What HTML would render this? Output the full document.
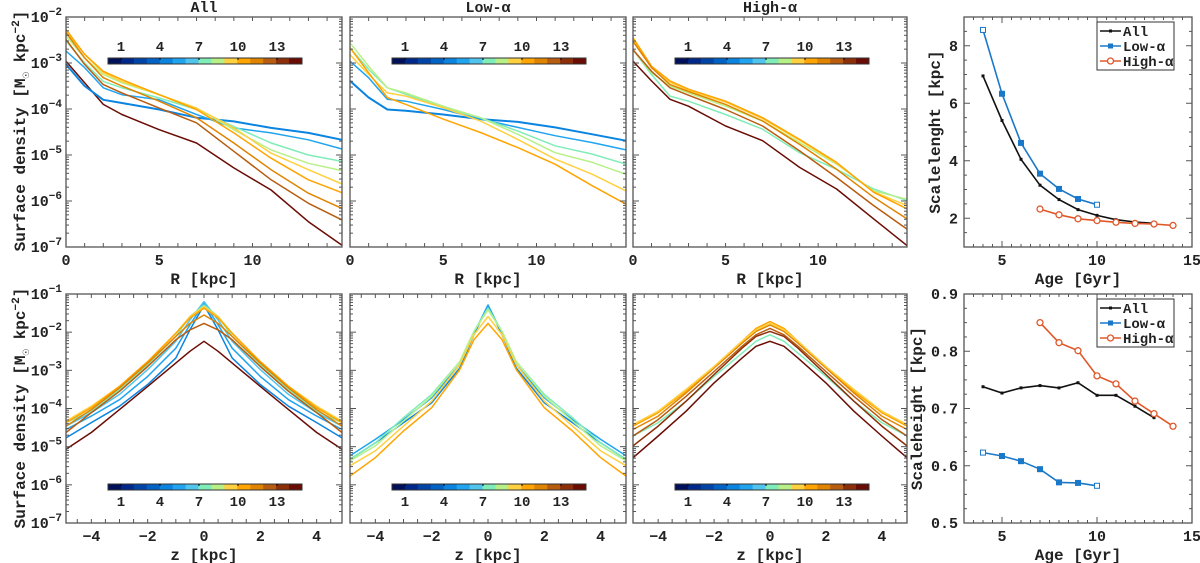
<!DOCTYPE html>
<html><head><meta charset="utf-8">
<style>
html,body{margin:0;padding:0;background:#fff;}
svg{display:block;font-family:"Liberation Mono",monospace;font-weight:bold;}
</style></head>
<body>
<svg id="fig" width="1200" height="563" viewBox="0 0 1200 563" xmlns="http://www.w3.org/2000/svg"></svg>
<script>
// ---------- data ----------
const ageColors = ['#00105a','#00288a','#0044a8','#0062c4','#0a84e0','#20a4f0','#50c4ec','#80ecb8','#b8f088','#ffd040','#ffa400','#e08400','#b85c10','#8c2e08','#6a0c04'];
const cbarTicks = [1,4,7,10,13];
const rGrid = [0,1,2,3,5,7,9,11,13,14.8];
const zGrid = [0,0.5,1,2,3,4,4.9];

const allTopAges = [14,4,5,7,8,9,10,11,12];
const allTop = [
 [-2.96,-3.43,-3.90,-4.12,-4.45,-4.74,-5.28,-5.76,-6.45,-6.96],
 [-3.03,-3.50,-3.80,-3.87,-4.01,-4.19,-4.27,-4.41,-4.52,-4.67],
 [-2.74,-3.10,-3.54,-3.69,-3.80,-4.12,-4.41,-4.52,-4.67,-4.87],
 [-2.52,-3.00,-3.40,-3.54,-3.76,-4.01,-4.38,-4.74,-5.00,-5.14],
 [-2.41,-2.89,-3.25,-3.43,-3.69,-3.98,-4.45,-4.89,-5.18,-5.34],
 [-2.31,-2.81,-3.21,-3.40,-3.69,-3.98,-4.41,-4.96,-5.32,-5.63],
 [-2.27,-2.81,-3.18,-3.36,-3.69,-4.01,-4.52,-5.07,-5.54,-5.82],
 [-2.34,-2.89,-3.32,-3.50,-3.83,-4.19,-4.74,-5.32,-5.83,-6.16],
 [-2.49,-3.03,-3.47,-3.65,-3.98,-4.30,-4.92,-5.54,-6.05,-6.41]];
const lowTopAges = [4,5,7,8,9,10];
const lowTop = [
 [-3.39,-3.75,-4.01,-4.04,-4.12,-4.22,-4.28,-4.40,-4.55,-4.69],
 [-2.96,-3.32,-3.79,-3.83,-4.01,-4.22,-4.40,-4.58,-4.73,-4.89],
 [-2.67,-3.14,-3.54,-3.68,-3.97,-4.19,-4.48,-4.80,-4.98,-5.20],
 [-2.56,-3.07,-3.54,-3.65,-3.94,-4.19,-4.55,-4.95,-5.16,-5.42],
 [-2.82,-3.25,-3.65,-3.72,-3.97,-4.26,-4.66,-5.09,-5.42,-5.78],
 [-2.67,-3.21,-3.75,-3.90,-4.22,-4.51,-4.84,-5.20,-5.67,-6.07]];
const highTopAges = [7,8,9,10,11,12,14];
const highTop = [
 [-2.71,-3.25,-3.72,-3.83,-4.12,-4.44,-4.95,-5.31,-5.74,-5.99],
 [-2.71,-3.21,-3.50,-3.65,-3.94,-4.26,-4.73,-5.20,-5.78,-5.96],
 [-2.49,-3.10,-3.42,-3.59,-3.85,-4.21,-4.68,-5.18,-5.80,-6.10],
 [-2.45,-3.07,-3.39,-3.57,-3.83,-4.19,-4.66,-5.16,-5.81,-6.17],
 [-2.53,-3.10,-3.47,-3.62,-3.90,-4.26,-4.77,-5.31,-5.92,-6.39],
 [-2.71,-3.18,-3.54,-3.70,-4.01,-4.37,-4.91,-5.49,-6.10,-6.61],
 [-2.96,-3.39,-3.79,-3.94,-4.37,-4.69,-5.27,-5.74,-6.39,-6.97]];

const allBotAges = [14,4,5,6,7,9,10,11,12];
const allBot = [
 [-2.24,-2.50,-2.81,-3.42,-4.03,-4.63,-5.07],
 [-1.29,-1.94,-2.68,-3.37,-3.94,-4.37,-4.77],
 [-1.24,-1.81,-2.42,-3.16,-3.77,-4.20,-4.55],
 [-1.20,-1.68,-2.24,-2.98,-3.63,-4.11,-4.46],
 [-1.29,-1.59,-2.11,-2.85,-3.50,-4.07,-4.37],
 [-1.33,-1.59,-2.03,-2.77,-3.42,-3.94,-4.33],
 [-1.37,-1.63,-2.03,-2.77,-3.42,-3.98,-4.37],
 [-1.55,-1.77,-2.11,-2.81,-3.46,-4.03,-4.46],
 [-1.77,-1.94,-2.20,-2.90,-3.55,-4.11,-4.63]];
const lowBotAges = [4,5,7,8,9,10];
const lowBot = [
 [-1.29,-2.07,-2.94,-3.85,-4.37,-4.90,-5.33],
 [-1.29,-2.03,-2.85,-3.72,-4.29,-4.81,-5.24],
 [-1.37,-1.98,-2.77,-3.63,-4.24,-4.90,-5.33],
 [-1.42,-1.98,-2.77,-3.68,-4.33,-4.98,-5.37],
 [-1.59,-2.07,-2.85,-3.81,-4.46,-5.11,-5.50],
 [-1.77,-2.20,-2.98,-3.98,-4.59,-5.29,-5.77]];
const highBotAges = [14,7,13,12,11,10,9];
const highBot = [
 [-2.24,-2.37,-2.68,-3.33,-4.07,-4.72,-5.29],
 [-2.07,-2.24,-2.55,-3.16,-3.81,-4.37,-4.72],
 [-1.98,-2.11,-2.42,-3.11,-3.81,-4.46,-4.98],
 [-1.90,-2.07,-2.37,-3.03,-3.68,-4.29,-4.72],
 [-1.81,-1.98,-2.29,-2.94,-3.59,-4.20,-4.55],
 [-1.72,-1.90,-2.24,-2.90,-3.55,-4.11,-4.46],
 [-1.77,-1.94,-2.24,-2.90,-3.50,-4.07,-4.42]];

const lenAllAges = [4,5,6,7,8,9,10,11,12,13];
const lenAll = [6.95,5.4,4.05,3.15,2.65,2.3,2.1,1.95,1.87,1.82];
const lenLowAges = [4,5,6,7,8,9,10];
const lenLow = [8.55,6.33,4.62,3.55,3.02,2.67,2.47];
const lenHighAges = [7,8,9,10,11,12,13,14];
const lenHigh = [2.32,2.12,1.98,1.92,1.86,1.82,1.8,1.75];
const hAll = [0.738,0.727,0.736,0.74,0.736,0.745,0.723,0.723,0.704,0.684];
const hLow = [0.623,0.617,0.608,0.594,0.571,0.570,0.565];
const hHigh = [0.85,0.815,0.801,0.757,0.743,0.713,0.691,0.669];

// ---------- helpers ----------
const NS='http://www.w3.org/2000/svg';
const svg=document.getElementById('fig');
function mk(tag,attrs,parent){const e=document.createElementNS(NS,tag);for(const k in attrs)e.setAttribute(k,attrs[k]);(parent||svg).appendChild(e);return e;}
function txt(s,x,y,size,anchor,parent){const t=mk('text',{x:x,y:y,'font-size':size,'text-anchor':anchor||'middle',fill:'#222'},parent);t.textContent=s;return t;}
function lin(d0,d1,p0,p1){return v=>p0+(v-d0)/(d1-d0)*(p1-p0);}
function powLabel(exp,x,y,parent){
  const t=mk('text',{x:x,y:y,'font-size':15,'text-anchor':'end',fill:'#222'},parent);
  const a=mk('tspan',{},t);a.textContent='10';
  const b=mk('tspan',{dy:-7,'font-size':11},t);b.textContent='\u2212'+exp;
  
  
}

function logPanel(o){
  const g=mk('g',{});
  
  
  const X=lin(o.xmin,o.xmax,o.x0,o.x1), Y=lin(o.ytop,o.ybot,o.y0,o.y1);
  // curves
  o.series.forEach((vals,i)=>{
    let pts=[];
    if(o.mirror){
      for(let k=o.grid.length-1;k>=1;k--)pts.push([X(-o.grid[k]),Y(vals[k])]);
      for(let k=0;k<o.grid.length;k++)pts.push([X(o.grid[k]),Y(vals[k])]);
    } else {
      for(let k=0;k<o.grid.length;k++)pts.push([X(o.grid[k]),Y(vals[k])]);
    }
    const p=mk('polyline',{points:pts.map(q=>q[0].toFixed(1)+','+q[1].toFixed(1)).join(' '),fill:'none',stroke:ageColors[o.ages[i]],'stroke-width':(o.ages[i]===4&&!o.mirror)?2:1.5,'stroke-linejoin':'round'},g);
    
    
  });
  // frame
  const fr=mk('rect',{x:o.x0,y:o.y0,width:o.x1-o.x0,height:o.y1-o.y0,fill:'none',stroke:'#555','stroke-width':1.3},g);
  
  
  // y ticks (log)
  for(let d=o.ytop;d>o.ybot;d--){
    for(let m=1;m<10;m++){
      const v=d-1+Math.log10(m); if(v<o.ybot||v>o.ytop)continue;
      const y=Y(v), L=(m===1)?6:3;
      mk('line',{x1:o.x0,x2:o.x0+L,y1:y,y2:y,stroke:'#555','stroke-width':1},g);
      mk('line',{x1:o.x1,x2:o.x1-L,y1:y,y2:y,stroke:'#555','stroke-width':1},g);
    }
  }
  mk('line',{x1:o.x0,x2:o.x0+6,y1:Y(o.ytop),y2:Y(o.ytop),stroke:'#555'},g);
  if(o.ylabels){for(let d=o.ytop;d>=o.ybot;d--)powLabel(-d,o.x0-4,Y(d)+5,g);}
  // x ticks
  for(let v=o.xtickStart;v<=o.xmax+1e-6;v+=o.minorStep){
    const x=X(v);
    mk('line',{x1:x,x2:x,y1:o.y1,y2:o.y1-4,stroke:'#555'},g);
    mk('line',{x1:x,x2:x,y1:o.y0,y2:o.y0+4,stroke:'#555'},g);
  }
  o.xlabels.forEach(v=>{const t=txt(v<0?'\u2212'+(-v):String(v),X(v),o.y1+18,15,'middle',g);
    });
  const xt=txt(o.xtitle,(o.x0+o.x1)/2,o.y1+37,16,'middle',g);
  
  // colorbar
  const cg=mk('g',{},g);
  
  
  const cx0=o.x0+42, cw=194, cy=o.cby, seg=cw/ageColors.length;
  ageColors.forEach((c,i)=>mk('rect',{x:cx0+i*seg,y:cy,width:seg+0.4,height:6,fill:c},cg));
  mk('rect',{x:cx0,y:cy,width:cw,height:6,fill:'none',stroke:'#333','stroke-width':1},cg);
  cbarTicks.forEach(a=>{const x=cx0+a*13;
    mk('line',{x1:x,x2:x,y1:cy,y2:cy+2,stroke:'#000'},cg);
    txt(String(a),x,o.cbLabelBelow?cy+22:cy-7,14,'middle',cg);});
  if(o.title){const t=txt(o.title,(o.x0+o.x1)/2,12,15,'middle',g);
    }
}

const cols=[[66,342],[350,626],[633,907]];
const titles=['All','Low-\u03b1','High-\u03b1'];
const topSets=[[allTop,allTopAges],[lowTop,lowTopAges],[highTop,highTopAges]];
const botSets=[[allBot,allBotAges],[lowBot,lowBotAges],[highBot,highBotAges]];
const names=['all','low-alpha','high-alpha'];
for(let c=0;c<3;c++){
  logPanel({name:'radial-profile-'+names[c],x0:cols[c][0],x1:cols[c][1],y0:17,y1:247,xmin:0,xmax:14.8,ytop:-2,ybot:-7,
    grid:rGrid,series:topSets[c][0],ages:topSets[c][1],mirror:false,ylabels:c===0,xtickStart:0,minorStep:1,xlabels:[0,5,10],
    xtitle:'R [kpc]',cby:58,cbLabelBelow:false,title:titles[c]});
  logPanel({name:'vertical-profile-'+names[c],x0:cols[c][0],x1:cols[c][1],y0:294,y1:523,xmin:-4.9,xmax:4.9,ytop:-1,ybot:-7,
    grid:zGrid,series:botSets[c][0],ages:botSets[c][1],mirror:true,ylabels:c===0,xtickStart:-4.5,minorStep:0.5,xlabels:[-4,-2,0,2,4],
    xtitle:'z [kpc]',cby:484,cbLabelBelow:true,title:null});
}
// left y titles
[[131,'top'],[408,'bottom']].forEach(([cy,w])=>{
  const t=mk('text',{x:0,y:0,'font-size':16,'text-anchor':'middle',fill:'#222',transform:'translate(25,'+cy+') rotate(-90)'});
  
  
  const a=mk('tspan',{},t);a.textContent='Surface density [M';
  const s=mk('tspan',{dy:4,'font-size':11},t);s.textContent='\u2609';
  const b=mk('tspan',{dy:-4},t);b.textContent=' kpc';
  const e=mk('tspan',{dy:-6,'font-size':11},t);e.textContent='\u22122';
  const f=mk('tspan',{dy:6},t);f.textContent=']';
});

// ---------- right panels ----------
const seriesCols={all:'#111',low:'#1a78c8',high:'#e0582a'};
function linePanel(o){
  const g=mk('g',{});
  
  
  const X=lin(3,15,964,1192), Y=lin(o.ymin,o.ymax,o.y1,o.y0);
  const fr=mk('rect',{x:964,y:o.y0,width:228,height:o.y1-o.y0,fill:'none',stroke:'#555','stroke-width':1.3},g);
  
  
  for(let v=3;v<=15;v+=0.5){const x=X(v),L=(v%5===0)?6:3;
    mk('line',{x1:x,x2:x,y1:o.y1,y2:o.y1-L,stroke:'#555'},g);mk('line',{x1:x,x2:x,y1:o.y0,y2:o.y0+L,stroke:'#555'},g);}
  [5,10,15].forEach(v=>{const t=txt(String(v),X(v),o.y1+18,15,'middle',g);});
  for(let v=o.ymin;v<=o.ymax+1e-9;v+=o.minor){const y=Y(v);
    const major=Math.abs(v/o.major-Math.round(v/o.major))<1e-6;const L=major?6:3;
    mk('line',{x1:964,x2:964+L,y1:y,y2:y,stroke:'#555'},g);mk('line',{x1:1192,x2:1192-L,y1:y,y2:y,stroke:'#555'},g);}
  o.yticks.forEach(v=>{const t=txt(o.fmt(v),958,Y(v)+5,15,'end',g);});
  const xt=txt('Age [Gyr]',1078,o.y1+37,16,'middle',g);
  const yt=mk('text',{x:0,y:0,'font-size':16,'text-anchor':'middle',fill:'#222',transform:'translate('+o.ytx+','+(o.y0+o.y1)/2+') rotate(-90)'},g);
  yt.textContent=o.ytitle;
  o.series.forEach(s=>{
    const sg=mk('g',{},g);
    
    
    mk('polyline',{points:s.ages.map((a,i)=>X(a).toFixed(1)+','+Y(s.vals[i]).toFixed(1)).join(' '),fill:'none',stroke:seriesCols[s.key],'stroke-width':1.6},sg);
    s.ages.forEach((a,i)=>{const x=X(a),y=Y(s.vals[i]);
      if(s.key==='all')mk('rect',{x:x-1.5,y:y-1.5,width:3,height:3,fill:'#111'},sg);
      else if(s.key==='low')mk('rect',{x:x-2.5,y:y-2.5,width:5,height:5,fill:i===s.ages.length-1||i===0?'#fff':seriesCols.low,stroke:seriesCols.low,'stroke-width':1},sg);
      else mk('circle',{cx:x,cy:y,r:3,fill:'#fff',stroke:seriesCols.high,'stroke-width':1.3},sg);});
  });
  // legend
  const lg=mk('g',{},g);
  
  
  mk('rect',{x:1097,y:o.ly,width:77,height:48,fill:'#fff',stroke:'#333','stroke-width':1},lg);
  [['all','All'],['low','Low-\u03b1'],['high','High-\u03b1']].forEach(([k,l],i)=>{
    const y=o.ly+9+i*15;
    const e=mk('g',{},lg);
    
    
    mk('line',{x1:1100,x2:1121,y1:y,y2:y,stroke:seriesCols[k],'stroke-width':1.6},e);
    if(k==='all')mk('rect',{x:1109,y:y-1.5,width:3,height:3,fill:'#111'},e);
    else if(k==='low')mk('rect',{x:1108,y:y-2.5,width:5,height:5,fill:seriesCols.low},e);
    else mk('circle',{cx:1110.5,cy:y,r:3,fill:'#fff',stroke:seriesCols.high,'stroke-width':1.3},e);
    txt(l,1123,y+5,14,'start',e);
  });
}
linePanel({name:'scalelength-panel',y0:17,y1:247,ymin:1,ymax:9,minor:0.5,major:2,yticks:[2,4,6,8],fmt:v=>String(v),ytx:940,ytitle:'Scalelenght [kpc]',ly:22,
  series:[{key:'all',ages:lenAllAges,vals:lenAll},{key:'low',ages:lenLowAges,vals:lenLow},{key:'high',ages:lenHighAges,vals:lenHigh}]});
linePanel({name:'scaleheight-panel',y0:294,y1:523,ymin:0.5,ymax:0.9,minor:0.025,major:0.1,yticks:[0.5,0.6,0.7,0.8,0.9],fmt:v=>v.toFixed(1),ytx:922,ytitle:'Scaleheight [kpc]',ly:299,
  series:[{key:'all',ages:lenAllAges,vals:hAll},{key:'low',ages:lenLowAges,vals:hLow},{key:'high',ages:lenHighAges,vals:hHigh}]});
</script>
</body></html>
